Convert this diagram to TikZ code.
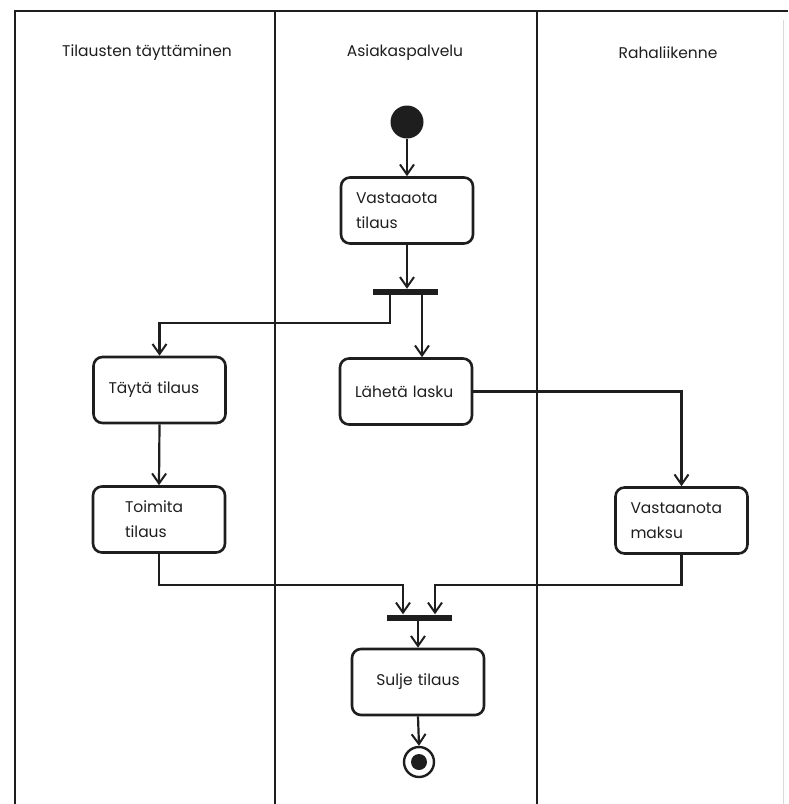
\documentclass[tikz,border=0pt]{standalone}
\usepackage{fontspec}
\setmainfont{Poppins}
\usetikzlibrary{arrows.meta}
\definecolor{ink}{HTML}{1E1E1E}

\begin{document}
\begin{tikzpicture}[x=1pt,y=-1pt,
  lane/.style={draw=ink, line width=2.3pt},
  act/.style={draw=ink, line width=2.6pt, rounded corners=9pt,
    minimum height=66pt, text width=102pt, inner xsep=15pt,
    align=left, font=\fontsize{15.5}{25}\selectfont, text=ink},
  bar/.style={fill=ink, minimum width=65pt, minimum height=6pt, inner sep=0pt},
  flow/.style={draw=ink, line width=2.2pt,
    -{Straight Barb[length=10pt,width=14pt,line width=2pt]}},
  head/.style={font=\fontsize{15.5}{18}\selectfont, text=ink}
]
\useasboundingbox (0,0) rectangle (788,804);

% swimlane frame
\draw[lane] (788,11) -- (15,11) -- (15,804);
\draw[lane] (275,11) -- (275,804);
\draw[lane] (537,11) -- (537,804);
\draw[draw=black!15, line width=0.8pt] (783,20) -- (783,804);

% lane headings
\node[head] (h1) at (147,53) {Tilausten täyttäminen};
\node[head] (h2) at (405,53) {Asiakaspalvelu};
\node[head] (h3) at (668,53) {Rahaliikenne};

% start / end states
\node[circle, fill=ink, minimum size=33pt, inner sep=0pt] (start) at (407,122) {};
\node[circle, draw=ink, line width=2.4pt, minimum size=30pt, inner sep=0pt, fill=white] (stop) at (419,762) {};
\fill[ink] (stop.center) circle (8pt);

% activities
\node[act] (vast) at (407,210.5) {Vastaaota\\tilaus};
\node[act] (laheta) at (406,391.5) {Lähetä lasku};
\node[act] (tayta) at (159.5,390) {Täytä tilaus};
\node[act] (toimita) at (159,519.5) {\hspace*{17pt}Toimita\\\hspace*{17pt}tilaus};
\node[act] (maksu) at (681.5,520.5) {Vastaanota\\maksu};
\node[act, align=center] (sulje) at (418,682) {Sulje tilaus};

% fork and join bars
\node[bar] (fork) at (405.5,292) {};
\node[bar] (join) at (419.5,617.5) {};

% branch points
\coordinate (f1) at (390,323);
\coordinate (f2) at (422,323);
\coordinate (j1) at (403,585);
\coordinate (j2) at (435,585);

% connectors
\draw[flow] (start) -- (vast.north);
\draw[flow] (vast.south) -- (vast.south |- fork.north);
\draw[flow] (fork.south -| f1) -- (f1) -| (tayta.north);
\draw[flow] (fork.south -| f2) -- (laheta.north -| f2);
\draw[flow] (tayta.south) -- (toimita.north);
\draw[flow] (laheta.east) -| (maksu.north);
\draw[flow] (toimita.south) |- (j1) -- (join.north -| j1);
\draw[flow] (maksu.south) |- (j2) -- (join.north -| j2);
\draw[flow] (join.south -| sulje.north) -- (sulje.north);
\draw[flow] (sulje.south) -- (stop.north);
\end{tikzpicture}
\end{document}
